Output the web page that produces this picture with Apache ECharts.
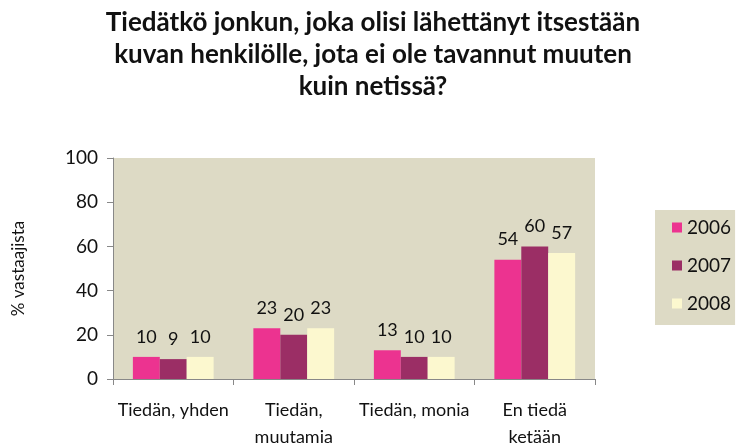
<!DOCTYPE html>
<html><head><meta charset="utf-8">
<script src="https://cdn.jsdelivr.net/npm/echarts@6/dist/echarts.min.js"></script>
<style>html,body{margin:0;padding:0;background:#fff}#c{width:736px;height:446px}</style>
</head><body><div id="c"></div>
<script>
const categories = ["Tiedän, yhden", "Tiedän,\nmuutamia", "Tiedän, monia", "En tiedä\nketään"];
const years = ["2006", "2007", "2008"];
const v2006 = [10, 23, 13, 54];
const v2007 = [9, 20, 10, 60];
const v2008 = [10, 23, 10, 57];
const yTicks = [0, 20, 40, 60, 80, 100];
const colors = ["#ec3390", "#9b2e65", "#fcf8cf"];
const FONT = "Lato";
const chart = echarts.init(document.getElementById('c'));
const mk = (name, data, i) => ({
  name, type: 'bar', data, barGap: '0%', barCategoryGap: '33%',
  itemStyle: {color: colors[i]},
  label: {show: true, position: 'top', distance: 11, color: '#111', fontFamily: FONT, fontSize: 18}
});
chart.setOption({
  animation: false,
  title: {
    text: "Tiedätkö jonkun, joka olisi lähettänyt itsestään\nkuvan henkilölle, jota ei ole tavannut muuten\nkuin netissä?",
    left: 368, top: 2, textAlign: 'center',
    textStyle: {fontFamily: FONT, fontWeight: 'bold', fontSize: 26, lineHeight: 32, color: '#111'}
  },
  legend: {
    orient: 'vertical', left: 655, top: 210, itemGap: 19,
    itemWidth: 10, itemHeight: 10, icon: 'rect',
    backgroundColor: '#dddac5', padding: [8, 4, 12, 17],
    textStyle: {fontFamily: FONT, fontSize: 19, color: '#111'},
    data: years
  },
  grid: {left: 113, right: 141, top: 158, bottom: 67, show: true, backgroundColor: '#dddac5', borderWidth: 0, outerBoundsMode: 'none'},
  xAxis: {
    type: 'category', data: categories,
    axisLine: {lineStyle: {color: '#888'}},
    axisTick: {show: true, length: 6, lineStyle: {color: '#888'}},
    axisLabel: {fontFamily: FONT, fontSize: 18, color: '#111', margin: 18, lineHeight: 27, interval: 0}
  },
  yAxis: {
    type: 'value', min: yTicks[0], max: yTicks[yTicks.length-1], interval: 20,
    name: '% vastaajista', nameLocation: 'middle', nameGap: 86, nameRotate: 90,
    nameTextStyle: {fontFamily: FONT, fontSize: 17, color: '#111'},
    axisLine: {show: true, lineStyle: {color: '#888'}},
    axisTick: {show: true, length: 6, lineStyle: {color: '#888'}},
    splitLine: {show: false},
    axisLabel: {fontFamily: FONT, fontSize: 19, color: '#111', margin: 15}
  },
  series: [mk(years[0], v2006, 0), mk(years[1], v2007, 1), mk(years[2], v2008, 2)]
});
</script></body></html>
